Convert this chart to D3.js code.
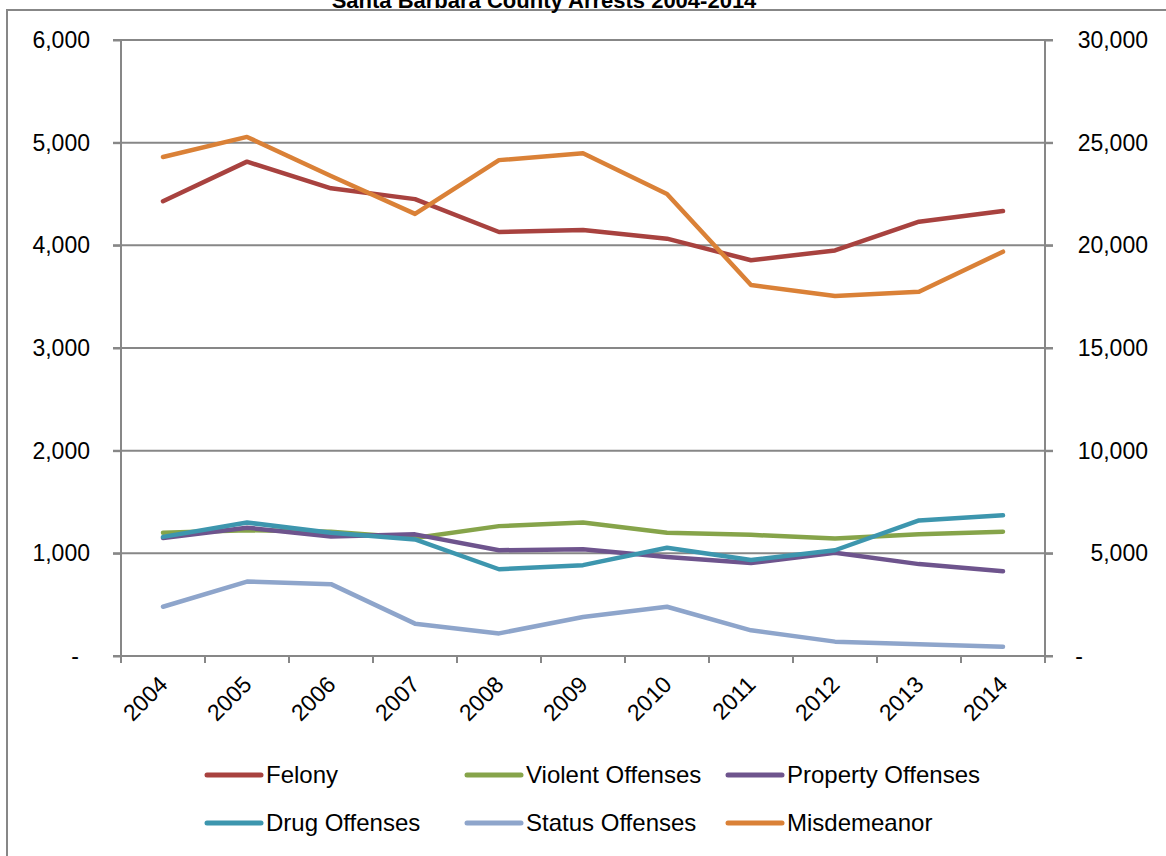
<!DOCTYPE html>
<html>
<head>
<meta charset="utf-8">
<script src="https://cdn.jsdelivr.net/npm/d3@7"></script>
<style>
  html, body { margin: 0; padding: 0; background: #fff; }
  svg { display: block; font-family: "Liberation Sans", Arial, sans-serif; }
</style>
</head>
<body>
<svg id="chart" width="1166" height="856"></svg>
<script>
// Santa Barbara County arrests by offense type, 2004-2014
const years = ["2004","2005","2006","2007","2008","2009","2010","2011","2012","2013","2014"];

// left axis series
const felony   = [4430, 4815, 4555, 4450, 4130, 4150, 4065, 3855, 3950, 4230, 4335];
const violent  = [1200, 1225, 1210, 1150, 1265, 1300, 1200, 1180, 1145, 1185, 1210];
const property = [1150, 1250, 1165, 1185, 1030, 1040,  965,  905, 1005,  895,  825];
const drug     = [1160, 1300, 1200, 1135,  845,  885, 1055,  935, 1030, 1320, 1370];
const status   = [ 480,  725,  700,  315,  220,  380,  480,  250,  140,  115,   90];
// right axis series
const misdemeanor = [24300, 25280, 23380, 21530, 24150, 24480, 22500, 18070, 17530, 17740, 19690];

const leftTicks  = [0, 1000, 2000, 3000, 4000, 5000, 6000];
const rightTicks = [0, 5000, 10000, 15000, 20000, 25000, 30000];

const series = [
  { name: "Felony",            values: felony,      axis: "left",  color: "#A8423F" },
  { name: "Violent Offenses",  values: violent,     axis: "left",  color: "#86A44A" },
  { name: "Property Offenses", values: property,    axis: "left",  color: "#6E548D" },
  { name: "Drug Offenses",     values: drug,        axis: "left",  color: "#3D96AE" },
  { name: "Status Offenses",   values: status,      axis: "left",  color: "#8EA5CB" },
  { name: "Misdemeanor",       values: misdemeanor, axis: "right", color: "#DA8137" }
];

const svg = d3.select("#chart");
const plot = { left: 121, right: 1045, top: 40, bottom: 656 };
const axisColor = "#878787";
const fontSize = 23;

// chart frame (extends past the visible edge on right and bottom)
svg.append("rect")
  .attr("x", 7).attr("y", 10).attr("width", 1200).attr("height", 900)
  .attr("fill", "none").attr("stroke", axisColor).attr("stroke-width", 2);

// title
svg.append("text")
  .attr("x", 544).attr("y", 8)
  .attr("text-anchor", "middle")
  .attr("font-weight", "bold").attr("font-size", 22)
  .attr("fill", "#000")
  .text("Santa Barbara County Arrests 2004-2014");

const x = d3.scaleBand().domain(years).range([plot.left, plot.right]);
const cx = d => x(d) + x.bandwidth() / 2;
const yL = d3.scaleLinear().domain([0, 6000]).range([plot.bottom, plot.top]);
const yR = d3.scaleLinear().domain([0, 30000]).range([plot.bottom, plot.top]);

// horizontal gridlines spanning both tick marks
svg.append("g").selectAll("line")
  .data(leftTicks.filter(t => t > 0))
  .join("line")
  .attr("x1", plot.left - 8).attr("x2", plot.right + 8)
  .attr("y1", d => yL(d)).attr("y2", d => yL(d))
  .attr("stroke", axisColor).attr("stroke-width", 2);

// left axis
const fmt = d3.format(",");
const leftAxis = d3.axisLeft(yL).tickValues(leftTicks).tickSize(8).tickPadding(23)
  .tickFormat(d => d === 0 ? "-" : fmt(d));
const gL = svg.append("g").attr("transform", `translate(${plot.left},0)`).call(leftAxis);
gL.select(".domain").remove();
gL.append("line").attr("x1", 0).attr("x2", 0).attr("y1", plot.top).attr("y2", plot.bottom + 7)
  .attr("stroke", axisColor).attr("stroke-width", 2);
gL.selectAll(".tick line").attr("stroke", axisColor).attr("stroke-width", 2);
gL.selectAll(".tick text").attr("font-size", fontSize).attr("fill", "#000")
  .attr("font-family", "Liberation Sans, Arial, sans-serif");
gL.selectAll(".tick").filter(d => d === 0).select("text").attr("x", -42);

// right axis
const rightAxis = d3.axisRight(yR).tickValues(rightTicks).tickSize(8).tickPadding(0)
  .tickFormat(d => d === 0 ? "-" : fmt(d));
const gR = svg.append("g").attr("transform", `translate(${plot.right},0)`).call(rightAxis);
gR.select(".domain").remove();
gR.append("line").attr("x1", 0).attr("x2", 0).attr("y1", plot.top).attr("y2", plot.bottom + 7)
  .attr("stroke", axisColor).attr("stroke-width", 2);
gR.selectAll(".tick line").attr("stroke", axisColor).attr("stroke-width", 2);
gR.selectAll(".tick text").attr("font-size", fontSize).attr("fill", "#000")
  .attr("font-family", "Liberation Sans, Arial, sans-serif")
  .attr("text-anchor", "end").attr("x", 103);
gR.selectAll(".tick").filter(d => d === 0).select("text").attr("text-anchor", "middle").attr("x", 34);

// bottom axis line and category boundary ticks
svg.append("line")
  .attr("x1", plot.left - 8).attr("x2", plot.right + 8)
  .attr("y1", plot.bottom).attr("y2", plot.bottom)
  .attr("stroke", axisColor).attr("stroke-width", 2);
const boundaries = years.map(d => x(d)).concat([plot.right]);
svg.append("g").selectAll("line")
  .data(boundaries)
  .join("line")
  .attr("x1", d => d).attr("x2", d => d)
  .attr("y1", plot.bottom).attr("y2", plot.bottom + 7)
  .attr("stroke", axisColor).attr("stroke-width", 2);

// rotated year labels
svg.append("g").selectAll("text")
  .data(years)
  .join("text")
  .attr("transform", d => `translate(${cx(d) + 6},${plot.bottom + 30}) rotate(-45)`)
  .attr("text-anchor", "end")
  .attr("font-size", fontSize).attr("fill", "#000")
  .text(d => d);

// series lines
const lineFor = s => d3.line()
  .x((v, i) => cx(years[i]))
  .y(v => (s.axis === "left" ? yL : yR)(v));

svg.append("g").selectAll("path")
  .data(series)
  .join("path")
  .attr("d", s => lineFor(s)(s.values))
  .attr("fill", "none")
  .attr("stroke", s => s.color)
  .attr("stroke-width", 4.5)
  .attr("stroke-linejoin", "round")
  .attr("stroke-linecap", "round");

// legend: two rows of three
const legendCols = [207, 467, 728];
const legendRows = [775, 823];
const lg = svg.append("g").selectAll("g")
  .data(series)
  .join("g")
  .attr("transform", (s, i) => `translate(${legendCols[i % 3]},${legendRows[Math.floor(i / 3)]})`);
lg.append("line")
  .attr("x1", 0).attr("x2", 54).attr("y1", 0).attr("y2", 0)
  .attr("stroke", s => s.color).attr("stroke-width", 5).attr("stroke-linecap", "round");
lg.append("text")
  .attr("x", 59).attr("y", 8)
  .attr("font-size", 24).attr("fill", "#000")
  .text(s => s.name);
</script>
</body>
</html>
